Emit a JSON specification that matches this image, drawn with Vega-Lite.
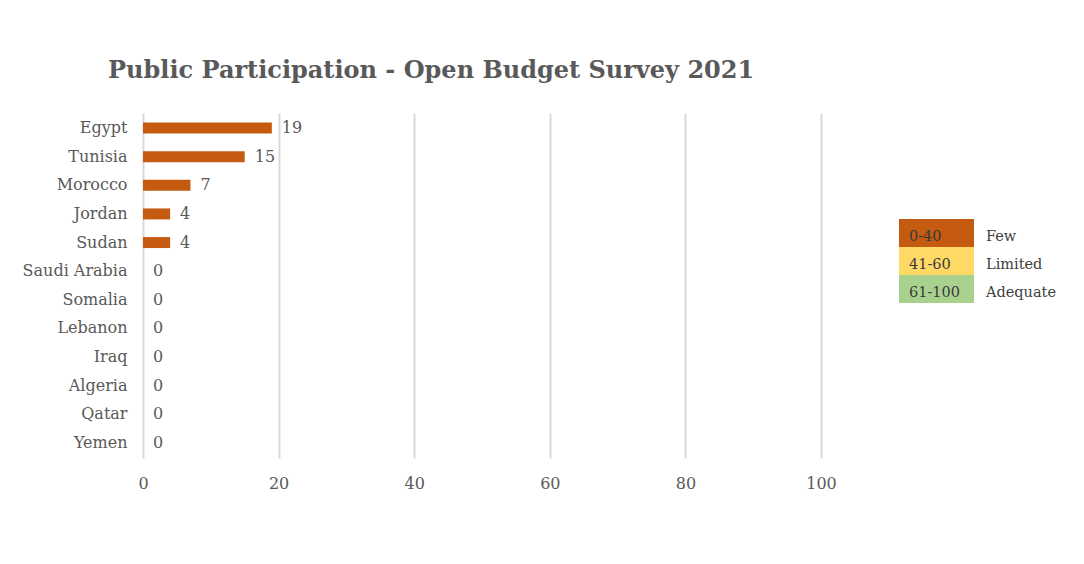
{
  "$schema": "https://vega.github.io/schema/vega-lite/v6.json",
  "background": "white",
  "padding": {"left": 22, "top": 59, "right": 5, "bottom": 5},
  "bounds": "flush",
  "spacing": 78,
  "config": {"view": {"stroke": null}, "font": "DejaVu Serif"},
  "hconcat": [
    {
      "width": 678,
      "height": 345,
      "title": {"text": "Public Participation - Open Budget Survey 2021", "anchor": "start", "frame": "group", "dx": -35, "fontSize": 24, "fontWeight": "bold", "color": "#595959", "offset": 30, "font": "DejaVu Serif"},
      "data": {"values": [
        {"country": "Egypt", "score": 19},
        {"country": "Tunisia", "score": 15},
        {"country": "Morocco", "score": 7},
        {"country": "Jordan", "score": 4},
        {"country": "Sudan", "score": 4},
        {"country": "Saudi Arabia", "score": 0},
        {"country": "Somalia", "score": 0},
        {"country": "Lebanon", "score": 0},
        {"country": "Iraq", "score": 0},
        {"country": "Algeria", "score": 0},
        {"country": "Qatar", "score": 0},
        {"country": "Yemen", "score": 0}
      ]},
      "encoding": {
        "y": {"field": "country", "type": "nominal", "sort": null, "title": null,
          "scale": {"paddingInner": 0.616, "paddingOuter": 0.333},
          "axis": {"domain": false, "ticks": false, "labelPadding": 16, "labelFontSize": 16, "labelColor": "#595959", "labelFont": "DejaVu Serif"}}
      },
      "layer": [
        {
          "mark": {"type": "bar", "color": "#C55A11"},
          "encoding": {
            "x": {"field": "score", "type": "quantitative", "title": null,
              "scale": {"domain": [0, 100], "nice": false},
              "axis": {"values": [0, 20, 40, 60, 80, 100], "labelFlush": false, "domain": false, "ticks": false, "grid": true, "gridColor": "#d9d9d9", "gridWidth": 2, "labelPadding": 17, "labelFontSize": 16, "labelColor": "#595959", "labelFont": "DejaVu Serif"}}
          }
        },
        {
          "mark": {"type": "text", "align": "left", "dx": 10, "fontSize": 16, "color": "#595959"},
          "encoding": {
            "x": {"field": "score", "type": "quantitative"},
            "text": {"field": "score", "type": "quantitative"}
          }
        }
      ]
    },
    {
      "width": 160,
      "height": 345,
      "data": {"values": [
        {"range": "0-40", "level": "Few"},
        {"range": "41-60", "level": "Limited"},
        {"range": "61-100", "level": "Adequate"}
      ]},
      "encoding": {
        "y": {"field": "range", "type": "nominal", "sort": null, "axis": null,
          "scale": {"paddingInner": 0, "paddingOuter": 0, "range": [106, 190]}}
      },
      "layer": [
        {
          "mark": {"type": "rect", "x": 0, "x2": 75},
          "encoding": {
            "color": {"field": "range", "type": "nominal", "legend": null,
              "scale": {"domain": ["0-40", "41-60", "61-100"], "range": ["#C55A11", "#FFD966", "#A9D18E"]}}
          }
        },
        {
          "mark": {"type": "text", "x": 10, "align": "left", "dy": 4, "fontSize": 14.5, "color": "#3a3a3a"},
          "encoding": {"text": {"field": "range"}}
        },
        {
          "mark": {"type": "text", "x": 87, "align": "left", "dy": 4, "fontSize": 14.5, "color": "#404040"},
          "encoding": {"text": {"field": "level"}}
        }
      ]
    }
  ]
}
